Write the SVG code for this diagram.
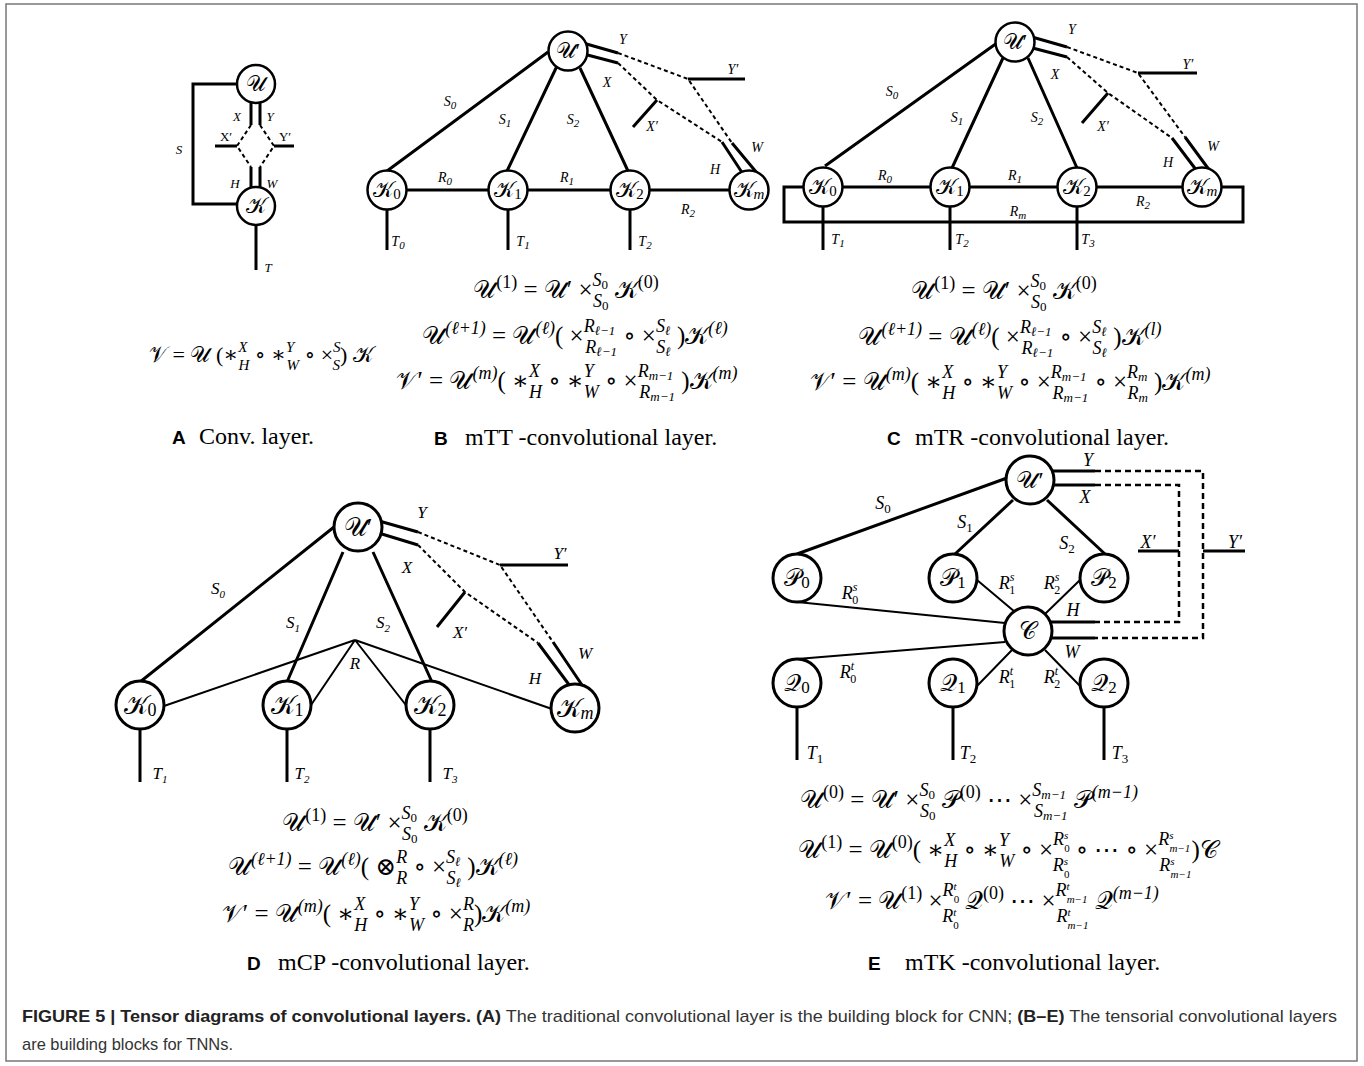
<svg xmlns="http://www.w3.org/2000/svg" width="1364" height="1066" viewBox="0 0 1364 1066">
<style>
.ln{fill:none;stroke:#000;stroke-width:3}
.tn{fill:none;stroke:#000;stroke-width:2}
.dl{fill:none;stroke:#000;stroke-width:2;stroke-dasharray:4 3}
.dle{fill:none;stroke:#000;stroke-width:2.5;stroke-dasharray:6 4}
.nd{fill:#fff;stroke:#000;stroke-width:2.5}
.ndl{fill:#fff;stroke:#000;stroke-width:3}
text{font-family:"Liberation Serif","DejaVu Serif",serif;fill:#000}
.lb{font-style:italic}
.la{font-size:13px}
.lbb{font-size:14px}
.lbd{font-size:17px}
.lbe{font-size:18px}
.eq{font-size:22px}
.eq2{font-size:25px}
.si{font-size:15px;font-style:italic}
.su{font-size:15px}
.xi{font-size:11px;font-style:italic}
.xu{font-size:11px}
.sj{font-size:18px;font-style:italic}
.sk{font-size:18px}
.xj{font-size:13px;font-style:italic}
.xk{font-size:13px}
.nl{font-size:22px}
.nld{font-size:26px}
.nle{font-size:24px}
.cl{font-family:"Liberation Sans",Arial,sans-serif;font-weight:bold;font-size:19px}
.ct{font-size:24px}
.fc{font-family:"Liberation Sans",Arial,sans-serif;font-size:17px;fill:#333}
</style>
<rect x="6" y="4" width="1351" height="1057" fill="#fff" stroke="#777" stroke-width="1.5"/>

<!-- Panel A -->
<g id="panel-a">
<g id="a-edges">
<path class="ln" d="M240,84 H193 V204 H240"/>
<path class="ln" d="M251,98 V125 M260,98 V125 M251,167 V192 M260,167 V192"/>
<path class="dl" d="M251,125 L237,146 L251,167 M260,125 L274,146 L260,167"/>
<path class="ln" d="M215,146 H237 M274,146 H294 M256,222 V270"/>
</g>
<g id="a-U"><circle class="nd" cx="256" cy="84" r="19"/><text class="nl" x="256" y="91" text-anchor="middle">𝒰</text></g>
<g id="a-K"><circle class="nd" cx="256" cy="206" r="19"/><text class="nl" x="256" y="213" text-anchor="middle">𝒦</text></g>
<g id="a-labels" class="la" text-anchor="middle">
<text class="lb" x="237" y="121">X</text><text class="lb" x="270" y="121">Y</text>
<text x="226" y="141">X′</text><text x="285" y="141">Y′</text>
<text class="lb" x="235" y="188">H</text><text class="lb" x="272" y="188">W</text>
<text class="lb" x="179" y="154">S</text><text class="lb" x="268" y="272">T</text>
</g>
<text class="eq" x="261" y="362" text-anchor="middle">𝒱 = 𝒰 (∗<tspan class="si" dy="-10">X</tspan><tspan class="si" dx="-9" dy="18">H</tspan><tspan dy="-8"> ∘ ∗</tspan><tspan class="si" dy="-10">Y</tspan><tspan class="si" dx="-8" dy="18">W</tspan><tspan dy="-8"> ∘ ×</tspan><tspan class="si" dy="-10">S</tspan><tspan class="si" dx="-8" dy="18">S</tspan><tspan dy="-8">) 𝒦</tspan></text>
<text class="cl" x="172" y="444">A</text><text class="ct" x="199" y="444">Conv. layer.</text>
</g>

<!-- Panel B -->
<g id="panel-b">
<g id="b-edges">
<path class="ln" d="M548,52 L387,171 M557,66 L507,171 M580,68 L628,171"/>
<path class="ln" d="M406,190 H489 M527,190 H611 M649,190 H730"/>
<path class="ln" d="M387,209 V250 M508,209 V250 M630,209 V250"/>
<path class="ln" d="M576,41 L618,53 M576,52 L618,63"/>
<path class="dl" d="M618,53 L688,79 L732,143 M618,63 L657,100 L722,142"/>
<path class="ln" d="M732,143 L757,173 M722,142 L743,174 M688,79 H745 M657,100 L633,127"/>
</g>
<g id="b-U"><circle class="nd" cx="568" cy="51" r="19.5"/><text class="nl" x="568" y="58" text-anchor="middle">𝒰′</text></g>
<g id="b-K0"><circle class="nd" cx="387" cy="190" r="19.5"/><text class="nl" x="387" y="197" text-anchor="middle">𝒦<tspan font-size="15" dy="2">0</tspan></text></g>
<g id="b-K1"><circle class="nd" cx="508" cy="190" r="19.5"/><text class="nl" x="508" y="197" text-anchor="middle">𝒦<tspan font-size="15" dy="2">1</tspan></text></g>
<g id="b-K2"><circle class="nd" cx="630" cy="190" r="19.5"/><text class="nl" x="630" y="197" text-anchor="middle">𝒦<tspan font-size="15" dy="2">2</tspan></text></g>
<g id="b-Km"><circle class="nd" cx="749" cy="190" r="19.5"/><text class="nl" x="749" y="197" text-anchor="middle">𝒦<tspan font-size="15" font-style="italic" dy="2">m</tspan></text></g>
<g id="b-labels" class="lbb lb" text-anchor="middle">
<text x="450" y="106">S<tspan class="xu" dy="3">0</tspan></text>
<text x="505" y="124">S<tspan class="xu" dy="3">1</tspan></text>
<text x="573" y="124">S<tspan class="xu" dy="3">2</tspan></text>
<text x="607" y="87">X</text><text x="623" y="44">Y</text>
<text x="733" y="74">Y′</text><text x="652" y="131">X′</text>
<text x="757" y="152">W</text><text x="715" y="174">H</text>
<text x="445" y="182">R<tspan class="xu" dy="3">0</tspan></text>
<text x="567" y="182">R<tspan class="xu" dy="3">1</tspan></text>
<text x="688" y="214">R<tspan class="xu" dy="3">2</tspan></text>
<text x="398" y="246">T<tspan class="xu" dy="3">0</tspan></text>
<text x="523" y="246">T<tspan class="xu" dy="3">1</tspan></text>
<text x="645" y="246">T<tspan class="xu" dy="3">2</tspan></text>
</g>
<text class="eq2" x="566" y="298" text-anchor="middle">𝒰<tspan class="sk" dy="-10">(1)</tspan><tspan dy="10"> = 𝒰′ ×</tspan><tspan class="sj" dy="-12">S</tspan><tspan class="xk" dy="3">0</tspan><tspan class="sj" dx="-15" dy="18">S</tspan><tspan class="xk" dy="3">0</tspan><tspan dy="-12"> 𝒦</tspan><tspan class="sk" dy="-10">(0)</tspan></text>
<text class="eq2" x="575" y="344" text-anchor="middle">𝒰<tspan class="sj" dy="-10">(ℓ+1)</tspan><tspan dy="10"> = 𝒰</tspan><tspan class="sj" dy="-10">(ℓ)</tspan><tspan dy="10">( ×</tspan><tspan class="sj" dy="-12">R</tspan><tspan class="xj" dy="3">ℓ−1</tspan><tspan class="sj" dx="-30" dy="18">R</tspan><tspan class="xj" dy="3">ℓ−1</tspan><tspan dy="-12"> ∘ ×</tspan><tspan class="sj" dy="-12">S</tspan><tspan class="xj" dy="3">ℓ</tspan><tspan class="sj" dx="-14" dy="18">S</tspan><tspan class="xj" dy="3">ℓ</tspan><tspan dy="-12"> )𝒦</tspan><tspan class="sj" dy="-10">(ℓ)</tspan></text>
<text class="eq2" x="567" y="389" text-anchor="middle">𝒱′ = 𝒰<tspan class="sj" dy="-10">(m)</tspan><tspan dy="10">( ∗</tspan><tspan class="sj" dy="-12">X</tspan><tspan class="sj" dx="-11" dy="21">H</tspan><tspan dy="-9"> ∘ ∗</tspan><tspan class="sj" dy="-12">Y</tspan><tspan class="sj" dx="-10" dy="21">W</tspan><tspan dy="-9"> ∘ ×</tspan><tspan class="sj" dy="-12">R</tspan><tspan class="xj" dy="3">m−1</tspan><tspan class="sj" dx="-34" dy="18">R</tspan><tspan class="xj" dy="3">m−1</tspan><tspan dy="-12"> )𝒦</tspan><tspan class="sj" dy="-10">(m)</tspan></text>
<text class="cl" x="434" y="445">B</text><text class="ct" x="465" y="445">mTT -convolutional layer.</text>
</g>

<!-- Panel C -->
<g id="panel-c">
<g id="c-edges">
<path class="ln" d="M997,43 L825,166 M1003,58 L952,168 M1028,58 L1077,168"/>
<path class="ln" d="M842,187 H931 M969,187 H1058 M1096,187 H1183"/>
<path class="ln" d="M804,187 H784 V222 H1243 V187 H1221"/>
<path class="ln" d="M823,206 V250 M950,206 V250 M1077,206 V250"/>
<path class="ln" d="M1025,35 L1067,47 M1025,46 L1067,57"/>
<path class="dl" d="M1067,47 L1138,73 L1185,137 M1067,57 L1108,93 L1172,138"/>
<path class="ln" d="M1185,137 L1210,171 M1172,138 L1197,171 M1138,73 H1197 M1108,93 L1082,123"/>
</g>
<g id="c-U"><circle class="nd" cx="1015" cy="42" r="19.5"/><text class="nl" x="1015" y="49" text-anchor="middle">𝒰′</text></g>
<g id="c-K0"><circle class="nd" cx="823" cy="187" r="19.5"/><text class="nl" x="823" y="194" text-anchor="middle">𝒦<tspan font-size="15" dy="2">0</tspan></text></g>
<g id="c-K1"><circle class="nd" cx="950" cy="187" r="19.5"/><text class="nl" x="950" y="194" text-anchor="middle">𝒦<tspan font-size="15" dy="2">1</tspan></text></g>
<g id="c-K2"><circle class="nd" cx="1077" cy="187" r="19.5"/><text class="nl" x="1077" y="194" text-anchor="middle">𝒦<tspan font-size="15" dy="2">2</tspan></text></g>
<g id="c-Km"><circle class="nd" cx="1202" cy="187" r="19.5"/><text class="nl" x="1202" y="194" text-anchor="middle">𝒦<tspan font-size="15" font-style="italic" dy="2">m</tspan></text></g>
<g id="c-labels" class="lbb lb" text-anchor="middle">
<text x="892" y="96">S<tspan class="xu" dy="3">0</tspan></text>
<text x="957" y="122">S<tspan class="xu" dy="3">1</tspan></text>
<text x="1037" y="122">S<tspan class="xu" dy="3">2</tspan></text>
<text x="1055" y="79">X</text><text x="1072" y="34">Y</text>
<text x="1188" y="69">Y′</text><text x="1103" y="131">X′</text>
<text x="1213" y="151">W</text><text x="1168" y="167">H</text>
<text x="885" y="180">R<tspan class="xu" dy="3">0</tspan></text>
<text x="1015" y="180">R<tspan class="xu" dy="3">1</tspan></text>
<text x="1143" y="206">R<tspan class="xu" dy="3">2</tspan></text>
<text x="1018" y="216">R<tspan class="xi" dy="3">m</tspan></text>
<text x="838" y="244">T<tspan class="xu" dy="3">1</tspan></text>
<text x="962" y="244">T<tspan class="xu" dy="3">2</tspan></text>
<text x="1088" y="244">T<tspan class="xu" dy="3">3</tspan></text>
</g>
<text class="eq2" x="1004" y="299" text-anchor="middle">𝒰<tspan class="sk" dy="-10">(1)</tspan><tspan dy="10"> = 𝒰′ ×</tspan><tspan class="sj" dy="-12">S</tspan><tspan class="xk" dy="3">0</tspan><tspan class="sj" dx="-15" dy="18">S</tspan><tspan class="xk" dy="3">0</tspan><tspan dy="-12"> 𝒦</tspan><tspan class="sk" dy="-10">(0)</tspan></text>
<text class="eq2" x="1010" y="345" text-anchor="middle">𝒰<tspan class="sj" dy="-10">(ℓ+1)</tspan><tspan dy="10"> = 𝒰</tspan><tspan class="sj" dy="-10">(ℓ)</tspan><tspan dy="10">( ×</tspan><tspan class="sj" dy="-12">R</tspan><tspan class="xj" dy="3">ℓ−1</tspan><tspan class="sj" dx="-30" dy="18">R</tspan><tspan class="xj" dy="3">ℓ−1</tspan><tspan dy="-12"> ∘ ×</tspan><tspan class="sj" dy="-12">S</tspan><tspan class="xj" dy="3">ℓ</tspan><tspan class="sj" dx="-14" dy="18">S</tspan><tspan class="xj" dy="3">ℓ</tspan><tspan dy="-12"> )𝒦</tspan><tspan class="sj" dy="-10">(l)</tspan></text>
<text class="eq2" x="1010" y="390" text-anchor="middle">𝒱′ = 𝒰<tspan class="sj" dy="-10">(m)</tspan><tspan dy="10">( ∗</tspan><tspan class="sj" dy="-12">X</tspan><tspan class="sj" dx="-11" dy="21">H</tspan><tspan dy="-9"> ∘ ∗</tspan><tspan class="sj" dy="-12">Y</tspan><tspan class="sj" dx="-10" dy="21">W</tspan><tspan dy="-9"> ∘ ×</tspan><tspan class="sj" dy="-12">R</tspan><tspan class="xj" dy="3">m−1</tspan><tspan class="sj" dx="-34" dy="18">R</tspan><tspan class="xj" dy="3">m−1</tspan><tspan dy="-12"> ∘ ×</tspan><tspan class="sj" dy="-12">R</tspan><tspan class="xj" dy="3">m</tspan><tspan class="sj" dx="-20" dy="18">R</tspan><tspan class="xj" dy="3">m</tspan><tspan dy="-12"> )𝒦</tspan><tspan class="sj" dy="-10">(m)</tspan></text>
<text class="cl" x="887" y="445">C</text><text class="ct" x="915" y="445">mTR -convolutional layer.</text>
</g>

<!-- Panel D -->
<g id="panel-d">
<g id="d-edges">
<path class="ln" d="M334,527 L140,682 M343,552 L287,682 M373,552 L432,682"/>
<path class="tn" d="M355,640 L164,706 M355,640 L309,708 M355,640 L409,709 M355,640 L552,709"/>
<path class="ln" d="M140,729 V782 M287,729 V782 M430,729 V782"/>
<path class="ln" d="M372,519 L418,532 M372,531 L418,545"/>
<path class="dl" d="M418,532 L500,565 L553,642 M418,545 L465,592 L538,643"/>
<path class="ln" d="M553,642 L582,685 M538,643 L570,686 M500,565 H568 M465,592 L437,627"/>
</g>
<g id="d-U"><circle class="ndl" cx="358" cy="527" r="24"/><text class="nld" x="358" y="536" text-anchor="middle">𝒰′</text></g>
<g id="d-K0"><circle class="ndl" cx="140" cy="705" r="24"/><text class="nld" x="140" y="714" text-anchor="middle">𝒦<tspan font-size="18" dy="2">0</tspan></text></g>
<g id="d-K1"><circle class="ndl" cx="287" cy="705" r="24"/><text class="nld" x="287" y="714" text-anchor="middle">𝒦<tspan font-size="18" dy="2">1</tspan></text></g>
<g id="d-K2"><circle class="ndl" cx="430" cy="705" r="24"/><text class="nld" x="430" y="714" text-anchor="middle">𝒦<tspan font-size="18" dy="2">2</tspan></text></g>
<g id="d-Km"><circle class="ndl" cx="575" cy="708" r="24"/><text class="nld" x="575" y="717" text-anchor="middle">𝒦<tspan font-size="18" font-style="italic" dy="2">m</tspan></text></g>
<g id="d-labels" class="lbd lb" text-anchor="middle">
<text x="422" y="518">Y</text><text x="407" y="573">X</text>
<text x="560" y="559">Y′</text><text x="460" y="638">X′</text>
<text x="218" y="594">S<tspan class="xu" font-size="12" dy="4">0</tspan></text>
<text x="293" y="628">S<tspan class="xu" font-size="12" dy="4">1</tspan></text>
<text x="383" y="628">S<tspan class="xu" font-size="12" dy="4">2</tspan></text>
<text x="355" y="669">R</text>
<text x="585" y="659">W</text><text x="535" y="684">H</text>
<text x="160" y="779">T<tspan class="xu" font-size="12" dy="4">1</tspan></text>
<text x="302" y="779">T<tspan class="xu" font-size="12" dy="4">2</tspan></text>
<text x="450" y="779">T<tspan class="xu" font-size="12" dy="4">3</tspan></text>
</g>
<text class="eq2" x="375" y="831" text-anchor="middle">𝒰<tspan class="sk" dy="-10">(1)</tspan><tspan dy="10"> = 𝒰′ ×</tspan><tspan class="sj" dy="-12">S</tspan><tspan class="xk" dy="3">0</tspan><tspan class="sj" dx="-15" dy="18">S</tspan><tspan class="xk" dy="3">0</tspan><tspan dy="-12"> 𝒦</tspan><tspan class="sk" dy="-10">(0)</tspan></text>
<text class="eq2" x="373" y="875" text-anchor="middle">𝒰<tspan class="sj" dy="-10">(ℓ+1)</tspan><tspan dy="10"> = 𝒰</tspan><tspan class="sj" dy="-10">(ℓ)</tspan><tspan dy="10">( ⊗</tspan><tspan class="sj" dy="-12">R</tspan><tspan class="sj" dx="-11" dy="21">R</tspan><tspan dy="-9"> ∘ ×</tspan><tspan class="sj" dy="-12">S</tspan><tspan class="xj" dy="3">ℓ</tspan><tspan class="sj" dx="-14" dy="18">S</tspan><tspan class="xj" dy="3">ℓ</tspan><tspan dy="-12"> )𝒦</tspan><tspan class="sj" dy="-10">(ℓ)</tspan></text>
<text class="eq2" x="376" y="922" text-anchor="middle">𝒱′ = 𝒰<tspan class="sj" dy="-10">(m)</tspan><tspan dy="10">( ∗</tspan><tspan class="sj" dy="-12">X</tspan><tspan class="sj" dx="-11" dy="21">H</tspan><tspan dy="-9"> ∘ ∗</tspan><tspan class="sj" dy="-12">Y</tspan><tspan class="sj" dx="-10" dy="21">W</tspan><tspan dy="-9"> ∘ ×</tspan><tspan class="sj" dy="-12">R</tspan><tspan class="sj" dx="-11" dy="21">R</tspan><tspan dy="-9">)𝒦</tspan><tspan class="sj" dy="-10">(m)</tspan></text>
<text class="cl" x="247" y="970">D</text><text class="ct" x="278" y="970">mCP -convolutional layer.</text>
</g>

<!-- Panel E -->
<g id="panel-e">
<g id="e-edges">
<path class="ln" d="M1007,478 L797,554 M1013,500 L955,554 M1047,500 L1105,554"/>
<path class="tn" d="M797,602 L1005,623 M977,580 L1015,612 M1080,580 L1045,614"/>
<path class="tn" d="M1005,642 L797,659 M1012,650 L977,686 M1045,650 L1080,686"/>
<path class="ln" d="M797,707 V760 M953,707 V760 M1104,707 V760"/>
<path class="ln" stroke-width="3.5" d="M1050,471 H1095 M1050,485 H1095 M1048,622 H1095 M1048,638 H1095"/>
<path class="dle" d="M1095,471 H1203 V638 H1095 M1095,485 H1179 V622 H1095"/>
<path class="ln" d="M1138,551 H1179 M1203,551 H1245"/>
</g>
<g id="e-U"><circle class="ndl" cx="1030" cy="480" r="24"/><text class="nle" x="1030" y="488" text-anchor="middle">𝒰′</text></g>
<g id="e-P0"><circle class="ndl" cx="797" cy="578" r="24"/><text class="nle" x="797" y="586" text-anchor="middle">𝒫<tspan font-size="17" dy="2">0</tspan></text></g>
<g id="e-P1"><circle class="ndl" cx="953" cy="578" r="24"/><text class="nle" x="953" y="586" text-anchor="middle">𝒫<tspan font-size="17" dy="2">1</tspan></text></g>
<g id="e-P2"><circle class="ndl" cx="1104" cy="578" r="24"/><text class="nle" x="1104" y="586" text-anchor="middle">𝒫<tspan font-size="17" dy="2">2</tspan></text></g>
<g id="e-C"><circle class="ndl" cx="1028" cy="631" r="24"/><text class="nle" x="1028" y="639" text-anchor="middle">𝒞</text></g>
<g id="e-Q0"><circle class="ndl" cx="797" cy="683" r="24"/><text class="nle" x="797" y="691" text-anchor="middle">𝒬<tspan font-size="17" dy="2">0</tspan></text></g>
<g id="e-Q1"><circle class="ndl" cx="953" cy="683" r="24"/><text class="nle" x="953" y="691" text-anchor="middle">𝒬<tspan font-size="17" dy="2">1</tspan></text></g>
<g id="e-Q2"><circle class="ndl" cx="1104" cy="683" r="24"/><text class="nle" x="1104" y="691" text-anchor="middle">𝒬<tspan font-size="17" dy="2">2</tspan></text></g>
<g id="e-labels" class="lbe lb" text-anchor="middle">
<text x="1088" y="466">Y</text><text x="1085" y="503">X</text>
<text x="1148" y="548">X′</text><text x="1235" y="548">Y′</text>
<text x="883" y="509">S<tspan font-size="13" font-style="normal" dy="4">0</tspan></text>
<text x="965" y="528">S<tspan font-size="13" font-style="normal" dy="4">1</tspan></text>
<text x="1067" y="549">S<tspan font-size="13" font-style="normal" dy="4">2</tspan></text>
<text x="850" y="599">R<tspan font-size="12" dy="-8">s</tspan><tspan font-size="12" font-style="normal" dx="-5" dy="13">0</tspan></text>
<text x="1007" y="589">R<tspan font-size="12" dy="-8">s</tspan><tspan font-size="12" font-style="normal" dx="-5" dy="13">1</tspan></text>
<text x="1052" y="589">R<tspan font-size="12" dy="-8">s</tspan><tspan font-size="12" font-style="normal" dx="-5" dy="13">2</tspan></text>
<text x="1073" y="616">H</text><text x="1072" y="658">W</text>
<text x="848" y="678">R<tspan font-size="12" dy="-8">t</tspan><tspan font-size="12" font-style="normal" dx="-4" dy="13">0</tspan></text>
<text x="1007" y="683">R<tspan font-size="12" dy="-8">t</tspan><tspan font-size="12" font-style="normal" dx="-4" dy="13">1</tspan></text>
<text x="1052" y="683">R<tspan font-size="12" dy="-8">t</tspan><tspan font-size="12" font-style="normal" dx="-4" dy="13">2</tspan></text>
<text x="815" y="759">T<tspan font-size="13" font-style="normal" dy="4">1</tspan></text>
<text x="968" y="759">T<tspan font-size="13" font-style="normal" dy="4">2</tspan></text>
<text x="1120" y="759">T<tspan font-size="13" font-style="normal" dy="4">3</tspan></text>
</g>
<text class="eq2" x="969" y="808" text-anchor="middle">𝒰<tspan class="sk" dy="-10">(0)</tspan><tspan dy="10"> = 𝒰′ ×</tspan><tspan class="sj" dy="-12">S</tspan><tspan class="xk" dy="3">0</tspan><tspan class="sj" dx="-15" dy="18">S</tspan><tspan class="xk" dy="3">0</tspan><tspan dy="-12"> 𝒫</tspan><tspan class="sk" dy="-10">(0)</tspan><tspan dy="10"> ⋯ ×</tspan><tspan class="sj" dy="-12">S</tspan><tspan class="xj" dy="3">m−1</tspan><tspan class="sj" dx="-32" dy="18">S</tspan><tspan class="xj" dy="3">m−1</tspan><tspan dy="-12"> 𝒫</tspan><tspan class="sj" dy="-10">(m−1)</tspan></text>
<text class="eq2" x="1008" y="858" text-anchor="middle">𝒰<tspan class="sk" dy="-10">(1)</tspan><tspan dy="10"> = 𝒰</tspan><tspan class="sk" dy="-10">(0)</tspan><tspan dy="10">( ∗</tspan><tspan class="sj" dy="-12">X</tspan><tspan class="sj" dx="-11" dy="21">H</tspan><tspan dy="-9"> ∘ ∗</tspan><tspan class="sj" dy="-12">Y</tspan><tspan class="sj" dx="-10" dy="21">W</tspan><tspan dy="-9"> ∘ ×</tspan><tspan class="sj" dy="-13">R</tspan><tspan class="xi" dy="-6">s</tspan><tspan class="xu" dx="-4" dy="13">0</tspan><tspan class="sj" dx="-17" dy="19">R</tspan><tspan class="xi" dy="-6">s</tspan><tspan class="xu" dx="-4" dy="13">0</tspan><tspan dy="-20"> ∘ ⋯ ∘ ×</tspan><tspan class="sj" dy="-13">R</tspan><tspan class="xi" dy="-6">s</tspan><tspan class="xi" dx="-4" dy="13">m−1</tspan><tspan class="sj" dx="-31" dy="19">R</tspan><tspan class="xi" dy="-6">s</tspan><tspan class="xi" dx="-4" dy="13">m−1</tspan><tspan dy="-20">)𝒞</tspan></text>
<text class="eq2" x="992" y="909" text-anchor="middle">𝒱′ = 𝒰<tspan class="sk" dy="-10">(1)</tspan><tspan dy="10"> ×</tspan><tspan class="sj" dy="-13">R</tspan><tspan class="xi" dy="-6">t</tspan><tspan class="xu" dx="-3" dy="13">0</tspan><tspan class="sj" dx="-17" dy="19">R</tspan><tspan class="xi" dy="-6">t</tspan><tspan class="xu" dx="-3" dy="13">0</tspan><tspan dy="-20"> 𝒬</tspan><tspan class="sk" dy="-10">(0)</tspan><tspan dy="10"> ⋯ ×</tspan><tspan class="sj" dy="-13">R</tspan><tspan class="xi" dy="-6">t</tspan><tspan class="xi" dx="-3" dy="13">m−1</tspan><tspan class="sj" dx="-31" dy="19">R</tspan><tspan class="xi" dy="-6">t</tspan><tspan class="xi" dx="-3" dy="13">m−1</tspan><tspan dy="-20"> 𝒬</tspan><tspan class="sj" dy="-10">(m−1)</tspan></text>
<text class="cl" x="868" y="970">E</text><text class="ct" x="905" y="970">mTK -convolutional layer.</text>
</g>

<!-- Figure caption -->
<g id="caption">
<text class="fc" x="22" y="1022" textLength="1315" lengthAdjust="spacingAndGlyphs"><tspan font-weight="bold" fill="#222">FIGURE 5 | Tensor diagrams of convolutional layers. (A)</tspan> The traditional convolutional layer is the building block for CNN; <tspan font-weight="bold" fill="#222">(B–E)</tspan> The tensorial convolutional layers</text>
<text class="fc" x="22" y="1050" textLength="211" lengthAdjust="spacingAndGlyphs">are building blocks for TNNs.</text>
</g>
</svg>
